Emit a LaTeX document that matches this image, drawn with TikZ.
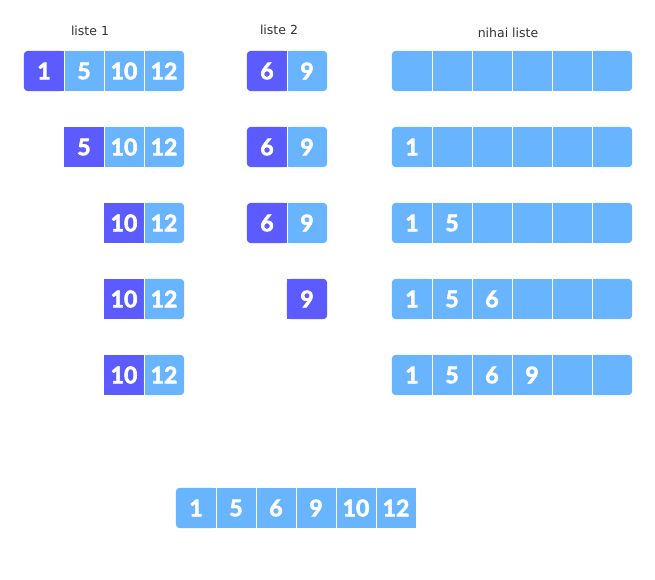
\documentclass[tikz,border=0pt]{standalone}
\usepackage{fontspec}
\newfontfamily\numfont{Lato}[FakeBold=2.6]
\newfontfamily\labfont{DejaVu Sans}
\usetikzlibrary{backgrounds}
\definecolor{dk}{HTML}{5B5BFF}
\definecolor{lt}{HTML}{68B4FF}
\definecolor{labc}{HTML}{333333}
\tikzset{
  cell/.style={minimum width=40pt, minimum height=40pt, inner sep=0pt, text=white,
    font=\numfont\bfseries\fontsize{23}{23}\selectfont},
  lab/.style={font=\labfont\fontsize{12.5}{14}\selectfont, text=labc, inner sep=0pt},
  sep/.style={draw=white, line width=1pt},
}
\newcommand\bgS[2]{\fill[#2] (#1.north west) rectangle (#1.south east);}
\newcommand\bgL[2]{\fill[#2, rounded corners=4pt] (#1.north west) rectangle (#1.south east);
  \fill[#2] (#1.north) rectangle (#1.south east);}
\newcommand\bgR[2]{\fill[#2, rounded corners=4pt] (#1.north west) rectangle (#1.south east);
  \fill[#2] (#1.north west) rectangle (#1.south);}
\newcommand\cellnode[6]{%
  \node[cell] (#1) at (#2,#3) {#6};
  \begin{pgfonlayer}{background}
    \csname bg#5\endcsname{#1}{#4}
  \end{pgfonlayer}}
\newcommand\sepafter[1]{\draw[sep] (#1.north east) -- (#1.south east);}
\begin{document}
\begin{tikzpicture}[x=1pt,y=-1pt]
\useasboundingbox (0,0) rectangle (655,580);
% labels
\node[lab] (lab1) at (90,31) {liste 1};
\node[lab] (lab2) at (279,30) {liste 2};
\node[lab] (lab3) at (508,33) {nihai liste};
% liste 1
\cellnode{a11}{44}{71}{dk}{L}{1}
\cellnode{a12}{84}{71}{lt}{S}{5}
\cellnode{a13}{124}{71}{lt}{S}{10}
\cellnode{a14}{164}{71}{lt}{R}{12}
\sepafter{a11}\sepafter{a12}\sepafter{a13}
\cellnode{a22}{84}{147}{dk}{S}{5}
\cellnode{a23}{124}{147}{lt}{S}{10}
\cellnode{a24}{164}{147}{lt}{R}{12}
\sepafter{a22}\sepafter{a23}
\foreach \r/\y in {3/223,4/299,5/375}{
  \cellnode{a\r3}{124}{\y}{dk}{S}{10}
  \cellnode{a\r4}{164}{\y}{lt}{R}{12}
  \sepafter{a\r3}
}
% liste 2
\foreach \r/\y in {1/71,2/147,3/223}{
  \cellnode{b\r1}{267}{\y}{dk}{L}{6}
  \cellnode{b\r2}{307}{\y}{lt}{R}{9}
  \sepafter{b\r1}
}
\cellnode{b42}{307}{299}{dk}{R}{9}
% nihai liste
\foreach \r/\y/\ta/\tb/\tc/\td in {1/71////, 2/147/1///, 3/223/1/5//, 4/299/1/5/6/, 5/375/1/5/6/9}{
  \cellnode{c\r1}{412}{\y}{lt}{L}{\ta}
  \cellnode{c\r2}{452}{\y}{lt}{S}{\tb}
  \cellnode{c\r3}{492}{\y}{lt}{S}{\tc}
  \cellnode{c\r4}{532}{\y}{lt}{S}{\td}
  \cellnode{c\r5}{572}{\y}{lt}{S}{}
  \cellnode{c\r6}{612}{\y}{lt}{R}{}
  \sepafter{c\r1}\sepafter{c\r2}\sepafter{c\r3}\sepafter{c\r4}\sepafter{c\r5}
}
% result
\cellnode{d1}{196}{508}{lt}{L}{1}
\cellnode{d2}{236}{508}{lt}{S}{5}
\cellnode{d3}{276}{508}{lt}{S}{6}
\cellnode{d4}{316}{508}{lt}{S}{9}
\cellnode{d5}{356}{508}{lt}{S}{10}
\cellnode{d6}{396}{508}{lt}{S}{12}
\sepafter{d1}\sepafter{d2}\sepafter{d3}\sepafter{d4}\sepafter{d5}
\end{tikzpicture}
\end{document}
